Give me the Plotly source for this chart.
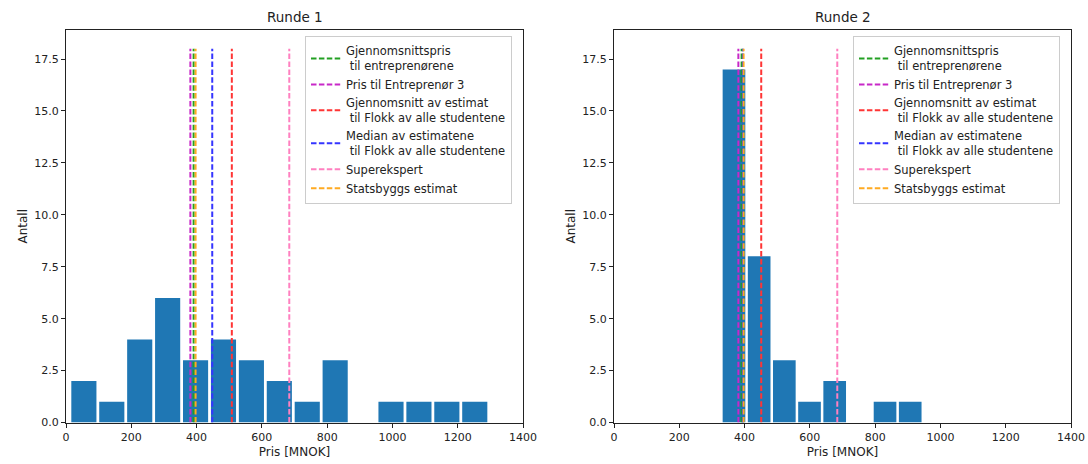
import numpy as np
import plotly.graph_objects as go

# Histogram counts per bin, and the value range the bins span
runde1_counts = [2, 1, 4, 6, 3, 4, 3, 2, 1, 3, 0, 1, 1, 1, 1]
runde1_range = (12, 1295)
runde2_counts = [17, 8, 3, 1, 2, 0, 1, 1]
runde2_range = (329, 946)

# Reference prices (MNOK) drawn as dashed vertical lines
ref_names = [
    "Gjennomsnittspris<br>\u00a0til entreprenørene",
    "Pris til Entreprenør 3",
    "Gjennomsnitt av estimat<br>\u00a0til Flokk av alle studentene",
    "Median av estimatene<br>\u00a0til Flokk av alle studentene",
    "Superekspert",
    "Statsbyggs estimat",
]
ref_colors = ["#22a022", "#c828c8", "#ff3535", "#3535ff", "#ff80c0", "#ffaa22"]
runde1_refs = [391, 381, 508, 448, 684, 397]
runde2_refs = [391, 381, 451, 395, 684, 397]

line_top = 18
bar_fill = 0.9

FONT = "DejaVu Sans"
fig = go.Figure()


def add_panel(counts, vrange, refs, xa, ya, legend):
    edges = np.linspace(vrange[0], vrange[1], len(counts) + 1)
    centers = (edges[:-1] + edges[1:]) / 2
    bw = edges[1] - edges[0]
    fig.add_trace(go.Bar(
        x=centers, y=counts, width=bw * bar_fill,
        marker=dict(color="#1f77b4", line=dict(width=0)),
        xaxis=xa, yaxis=ya, showlegend=False, hoverinfo="x+y",
    ))
    for name, color, v in zip(ref_names, ref_colors, refs):
        fig.add_trace(go.Scatter(
            x=[v, v], y=[0, line_top], mode="lines", name=name,
            line=dict(color=color, width=2, dash="5.5px,2.4px"),
            xaxis=xa, yaxis=ya, legend=legend,
        ))


add_panel(runde1_counts, runde1_range, runde1_refs, "x", "y", "legend")
add_panel(runde2_counts, runde2_range, runde2_refs, "x2", "y2", "legend2")

ytick_vals = [0, 2.5, 5, 7.5, 10, 12.5, 15, 17.5]
ytick_text = [f"{v:.1f}" for v in ytick_vals]
xtick_vals = [0, 200, 400, 600, 800, 1000, 1200, 1400]

axis_common = dict(
    showline=True, linecolor="#222", linewidth=1, mirror=True,
    ticks="outside", ticklen=4, tickcolor="#222", tickwidth=1,
    showgrid=False, zeroline=False, automargin=False,
    tickfont=dict(family=FONT, size=11, color="#222"),
)
xdom1 = [66 / 1088, 523 / 1088]
xdom2 = [614 / 1088, 1071 / 1088]
ydom = [41.5 / 464, 434 / 464]

xa = dict(axis_common, range=[0, 1400], tickvals=xtick_vals,
          title=dict(text="Pris [MNOK]", font=dict(family=FONT, size=12, color="#222"), standoff=4))
ya = dict(axis_common, range=[0, 18.9], tickvals=ytick_vals, ticktext=ytick_text,
          title=dict(text="Antall", font=dict(family=FONT, size=12, color="#222"), standoff=4))

legend_common = dict(
    xanchor="left", yanchor="top",
    bgcolor="rgba(255,255,255,0.85)", bordercolor="#cccccc", borderwidth=1,
    font=dict(family=FONT, size=11.5, color="#222"),
    itemwidth=30, tracegroupgap=0,
)

fig.update_layout(
    width=1088, height=464,
    margin=dict(l=0, r=0, t=0, b=0, autoexpand=False),
    paper_bgcolor="white", plot_bgcolor="white",
    font=dict(family=FONT, color="#222"),
    xaxis=dict(xa, domain=xdom1, anchor="y"),
    yaxis=dict(ya, domain=ydom, anchor="x"),
    xaxis2=dict(xa, domain=xdom2, anchor="y2"),
    yaxis2=dict(ya, domain=ydom, anchor="x2"),
    legend=dict(legend_common, x=305 / 1088, y=(464 - 36) / 464),
    legend2=dict(legend_common, x=853 / 1088, y=(464 - 36) / 464),
    annotations=[
        dict(text="Runde 1", x=sum(xdom1) / 2, y=(464 - 17) / 464, xref="paper", yref="paper",
             xanchor="center", yanchor="middle",
             showarrow=False, font=dict(family=FONT, size=13.5, color="#222")),
        dict(text="Runde 2", x=sum(xdom2) / 2, y=(464 - 17) / 464, xref="paper", yref="paper",
             xanchor="center", yanchor="middle",
             showarrow=False, font=dict(family=FONT, size=13.5, color="#222")),
    ],
)

fig.write_html("out.html")
